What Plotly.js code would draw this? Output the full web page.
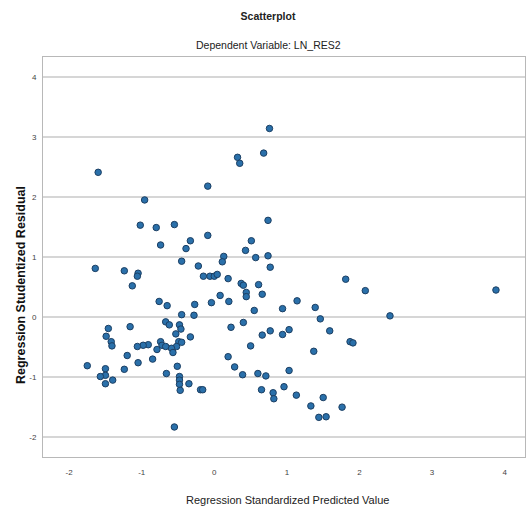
<!DOCTYPE html>
<html>
<head>
<meta charset="utf-8">
<script src="https://cdn.plot.ly/plotly-3.0.1.min.js"></script>
<style>html,body{margin:0;padding:0;background:#fff;}#chart{width:527px;height:511px;}</style>
</head>
<body>
<div id="chart"></div>
<script>
var predicted = [
 -1.60,-0.96,-0.09,0.32,0.35,-1.02,-0.80,-0.55,-0.74,-0.33,-0.09,-0.39,0.76,0.68,0.74,0.51,0.43,
 -0.45,-0.22,0.13,0.11,-1.64,-1.24,-1.05,-1.06,-1.13,-0.15,-0.06,0.00,0.04,0.19,0.37,0.40,
 -0.76,-0.65,-0.27,-0.28,-0.45,-0.04,0.08,0.20,0.23,-1.46,-1.49,-1.42,-1.41,-1.16,-0.67,-0.62,
 -0.48,-0.46,-0.53,-0.33,-0.49,-0.45,-0.52,-0.59,-0.57,-0.74,-0.72,-0.67,-0.79,-0.91,-0.98,-1.06,
 -1.20,-0.85,-1.05,-1.75,-1.50,-1.50,-1.57,-1.50,-1.40,-1.24,-0.51,-0.66,-0.48,-0.48,-0.48,-0.47,
 -0.35,-0.19,-0.16,-0.55,0.19,0.28,0.57,0.74,0.77,0.61,0.66,0.44,0.44,0.55,0.94,1.14,1.39,1.46,
 1.59,1.81,2.08,2.42,1.87,1.91,0.40,0.66,0.77,0.94,1.03,0.50,1.37,0.39,0.60,0.71,1.03,0.65,0.81,
 0.82,0.96,1.13,1.33,1.50,1.44,1.54,1.76,3.88
];
var residual = [
 2.41,1.95,2.18,2.66,2.56,1.53,1.49,1.54,1.20,1.27,1.36,1.14,3.14,2.73,1.61,1.27,1.11,
 0.93,0.85,1.01,0.92,0.81,0.77,0.73,0.68,0.52,0.68,0.68,0.68,0.71,0.64,0.56,0.53,
 0.26,0.19,0.21,0.03,0.04,0.24,0.36,0.26,-0.17,-0.19,-0.32,-0.41,-0.48,-0.16,-0.08,-0.13,
 -0.13,-0.20,-0.28,-0.33,-0.41,-0.42,-0.49,-0.52,-0.59,-0.41,-0.47,-0.49,-0.54,-0.46,-0.47,-0.49,
 -0.64,-0.70,-0.76,-0.81,-0.86,-0.97,-0.99,-1.11,-1.05,-0.87,-0.82,-0.94,-0.99,-1.05,-1.12,-1.22,
 -1.11,-1.21,-1.21,-1.83,-0.66,-0.83,0.99,1.02,0.83,0.54,0.38,0.41,0.34,0.11,0.14,0.27,0.16,-0.03,
 -0.23,0.63,0.44,0.02,-0.41,-0.43,-0.09,-0.30,-0.23,-0.29,-0.21,-0.48,-0.57,-0.96,-0.94,-0.98,-0.89,-1.21,-1.26,
 -1.36,-1.16,-1.30,-1.48,-1.34,-1.67,-1.66,-1.50,0.45
];
var xTicks = [-2,-1,0,1,2,3,4];
var yTicks = [-2,-1,0,1,2,3,4];
var chartTitle = "Scatterplot";
var subTitle = "Dependent Variable: LN_RES2";
var xTitle = "Regression Standardized Predicted Value";
var yTitle = "Regression Studentized Residual";

var sans = "'Liberation Sans', Arial, sans-serif";

var trace = {
  x: predicted, y: residual, type: "scatter", mode: "markers",
  marker: {size: 6.5, color: "#2a70aa", line: {color: "#1c3f63", width: 1}},
  hoverinfo: "skip", showlegend: false
};

var layout = {
  width: 527, height: 511,
  margin: {l: 43, r: 2, t: 57, b: 54},
  paper_bgcolor: "#fff", plot_bgcolor: "#fff",
  font: {family: sans, color: "#333", size: 8},
  xaxis: {
    range: [-2.36, 4.28], tickvals: xTicks, ticktext: xTicks.map(String),
    showgrid: false, zeroline: false, showline: true, linecolor: "#b8b8b8", linewidth: 1, mirror: true,
    ticks: "", ticklabelstandoff: 7, tickfont: {family: sans, size: 8, color: "#444"}
  },
  yaxis: {
    range: [-2.33, 4.33], tickvals: yTicks, ticktext: yTicks.map(String),
    showgrid: true, gridcolor: "#d6d6d6", gridwidth: 1.5, zeroline: false,
    showline: true, linecolor: "#b8b8b8", linewidth: 1, mirror: true,
    ticks: "", ticklabelstandoff: 4, tickfont: {family: sans, size: 8, color: "#444"}
  },
  title: {text: chartTitle, xanchor: "center", yanchor: "middle",
          font: {family: sans, size: 10.5, color: "#222", weight: "bold"}},
  annotations: [
    {text: subTitle, xref: "paper", yref: "paper", xanchor: "center", yanchor: "middle",
     showarrow: false, font: {family: sans, size: 10.5, color: "#222"}},
    {text: xTitle, xref: "paper", yref: "paper", xanchor: "center", yanchor: "middle",
     showarrow: false, font: {family: sans, size: 11, color: "#222"}},
    {text: yTitle, xref: "paper", yref: "paper", xanchor: "center", yanchor: "middle",
     textangle: -90, showarrow: false, font: {family: sans, size: 12.5, color: "#111", weight: "bold"}}
  ]
};
// place annotations in pixel terms relative to plot area (plot area: x 43..525, y 57..457)
function px2paperX(p){ return (p - 43) / 482; }
function px2paperY(p){ return (457 - p) / 400; }
layout.annotations[0].x = px2paperX(268); layout.annotations[0].y = px2paperY(45);
layout.annotations[1].x = px2paperX(287); layout.annotations[1].y = px2paperY(500);
layout.annotations[2].x = px2paperX(21);  layout.annotations[2].y = px2paperY(285);
layout.title.x = 268 / 527; layout.title.y = 1 - 16 / 511;

Plotly.newPlot("chart", [trace], layout, {displayModeBar: false, staticPlot: true});
</script>
</body>
</html>
